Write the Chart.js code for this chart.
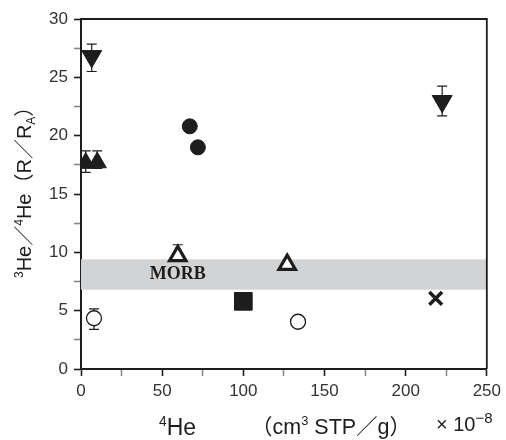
<!DOCTYPE html>
<html>
<head>
<meta charset="utf-8">
<script src="https://cdn.jsdelivr.net/npm/chart.js@4"></script>
<style>
  html, body { margin: 0; padding: 0; background: #fff; }
  #wrap { width: 506px; height: 440px; }
</style>
</head>
<body>
<div id="wrap"><canvas id="myChart" width="506" height="440"></canvas></div>
<script>
// values (x: 4He x10^-8 cm3 STP/g, y: R/RA)
const invTriX = [6.6, 222.5];
const invTriY = [26.8, 22.95];
const invTriLo = [25.5, 21.7];
const invTriHi = [27.85, 24.25];

const triX = [2.9, 10.0];
const triY = [17.65, 17.7];
const triLo = [16.85, 17.2];
const triHi = [18.7, 18.7];

const dotX = [67, 72];
const dotY = [20.8, 19.0];

const openTriX = [59.6, 127];
const openTriY = [9.7, 8.95];
const openTriLo = [9.7, 8.95];
const openTriHi = [10.65, 8.95];

const squareX = [100];
const squareY = [5.8];

const ringX = [8.0, 133.7];
const ringY = [4.35, 4.05];
const ringLo = [3.4, 4.05];
const ringHi = [5.15, 4.05];

const crossX = [218.5];
const crossY = [6.05];

const morbRange = [6.8, 9.4];
const morbLabel = { text: 'MORB', x: 59.6, y: 7.7 };

const xMajor = 50, xMinor = 25;
const yMajor = 5, yMinor = 2.5;

const SANS = '"Liberation Sans", "Noto Sans CJK JP", Arial, sans-serif';
const INK = '#1d1d1d';

function pts(xs, ys) {
    return xs.map((x, i) => ({ x: x, y: ys[i] }));
}

function drawRich(ctx, parts, x, y, size) {
    let cx = x;
    parts.forEach((p) => {
        const s = (p.sup || p.sub) ? size * (p.scale || 0.6) : size;
        ctx.font = `${s}px ${SANS}`;
        const dy = p.sup ? -size * 0.4 : (p.sub ? size * 0.22 : 0);
        ctx.fillText(p.t, cx, y + dy);
        cx += ctx.measureText(p.t).width;
    });
    return cx - x;
}

const bandPlugin = {
    id: 'band',
    beforeDatasetsDraw(chart) {
        const { ctx, chartArea, scales } = chart;
        const y1 = scales.y.getPixelForValue(morbRange[1]);
        const y0 = scales.y.getPixelForValue(morbRange[0]);
        ctx.save();
        ctx.fillStyle = '#d2d3d5';
        ctx.fillRect(chartArea.left, y1, chartArea.right - chartArea.left, y0 - y1);
        ctx.font = `bold 18px "Liberation Serif", "DejaVu Serif", serif`;
        ctx.fillStyle = INK;
        ctx.textAlign = 'center';
        ctx.textBaseline = 'alphabetic';
        ctx.fillText(morbLabel.text, scales.x.getPixelForValue(morbLabel.x), scales.y.getPixelForValue(morbLabel.y));

        // error bars, under the markers
        ctx.strokeStyle = INK;
        ctx.lineWidth = 1.2;
        chart.data.datasets.forEach((ds) => {
            if (!ds.errLo) return;
            ds.data.forEach((p, i) => {
                const px = scales.x.getPixelForValue(p.x);
                const lo = scales.y.getPixelForValue(ds.errLo[i]);
                const hi = scales.y.getPixelForValue(ds.errHi[i]);
                if (Math.abs(lo - hi) < 0.5) return;
                ctx.beginPath();
                ctx.moveTo(px, lo);
                ctx.lineTo(px, hi);
                ctx.moveTo(px - 5, hi);
                ctx.lineTo(px + 5, hi);
                if (ds.errLo[i] < p.y) {
                    ctx.moveTo(px - 5, lo);
                    ctx.lineTo(px + 5, lo);
                }
                ctx.stroke();
            });
        });
        ctx.restore();
    }
};

const framePlugin = {
    id: 'frame',
    afterDraw(chart) {
        const { ctx, chartArea } = chart;
        ctx.save();
        ctx.strokeStyle = INK;
        ctx.lineWidth = 1.8;
        ctx.beginPath();
        ctx.moveTo(chartArea.left, chartArea.top);
        ctx.lineTo(chartArea.right, chartArea.top);
        ctx.lineTo(chartArea.right, chartArea.bottom);
        ctx.stroke();

        ctx.fillStyle = INK;
        ctx.textBaseline = 'alphabetic';
        ctx.textAlign = 'left';

        // y axis title
        const yParts = [
            { t: '3', sup: true }, { t: 'He' }, { t: '／' }, { t: '4', sup: true }, { t: 'He' },
            { t: '（' }, { t: 'R' }, { t: '／' }, { t: 'R' }, { t: 'A', sub: true }, { t: '）' }
        ];
        ctx.save();
        ctx.translate(31, 278);
        ctx.rotate(-Math.PI / 2);
        drawRich(ctx, yParts, 0, 0, 20);
        ctx.restore();

        // x axis title
        drawRich(ctx, [{ t: '4', sup: true }, { t: 'He' }], 159, 435, 23);
        drawRich(ctx, [{ t: '（' }, { t: 'cm' }, { t: '3', sup: true }, { t: ' STP' }, { t: '／' }, { t: 'g' }, { t: '）' }], 251, 434, 21.5);
        drawRich(ctx, [{ t: '× 10' }, { t: '−8', sup: true, scale: 0.75 }], 436, 431, 20);
        ctx.restore();
    }
};

const tickColor = (step) => (c) => (c.tick && Math.abs(c.tick.value % step) < 1e-6 ? INK : '#8a8a8a');

const ctx = document.getElementById('myChart').getContext('2d');
new Chart(ctx, {
    type: 'scatter',
    data: {
        datasets: [
            {
                data: pts(invTriX, invTriY), errLo: invTriLo, errHi: invTriHi,
                pointStyle: 'triangle', rotation: 180, pointRadius: 11.5,
                backgroundColor: INK, borderColor: INK, borderWidth: 1
            },
            {
                data: pts(triX, triY), errLo: triLo, errHi: triHi,
                pointStyle: 'triangle', pointRadius: 10.5,
                backgroundColor: INK, borderColor: INK, borderWidth: 1
            },
            {
                data: pts(dotX, dotY),
                pointStyle: 'circle', pointRadius: 7.5,
                backgroundColor: INK, borderColor: INK, borderWidth: 1
            },
            {
                data: pts(openTriX, openTriY), errLo: openTriLo, errHi: openTriHi,
                pointStyle: 'triangle', pointRadius: 9.5,
                backgroundColor: '#fff', borderColor: INK, borderWidth: 3.2
            },
            {
                data: pts(squareX, squareY),
                pointStyle: 'rect', pointRadius: 12.5,
                backgroundColor: INK, borderColor: INK, borderWidth: 1
            },
            {
                data: pts(ringX, ringY), errLo: ringLo, errHi: ringHi,
                pointStyle: 'circle', pointRadius: 7.5,
                backgroundColor: '#fff', borderColor: INK, borderWidth: 1.3
            },
            {
                data: pts(crossX, crossY),
                pointStyle: 'crossRot', pointRadius: 9,
                backgroundColor: INK, borderColor: INK, borderWidth: 3.5
            }
        ]
    },
    options: {
        responsive: false,
        animation: false,
        layout: { padding: { top: 19, right: 18, left: 0, bottom: 0 } },
        plugins: { legend: { display: false }, tooltip: { enabled: false } },
        elements: { point: { hoverRadius: 0 } },
        scales: {
            x: {
                type: 'linear', min: 0, max: 250,
                afterFit: (s) => { s.height = 71; },
                ticks: {
                    stepSize: xMinor, padding: 5, color: '#333',
                    font: { family: SANS, size: 17 },
                    maxRotation: 0, autoSkip: false,
                    callback: (v) => (v % xMajor === 0 ? v : '')
                },
                grid: {
                    drawOnChartArea: false, drawTicks: true, tickLength: 7,
                    tickColor: tickColor(xMajor), tickWidth: 1.6
                },
                border: { display: true, color: INK, width: 2 }
            },
            y: {
                type: 'linear', min: 0, max: 30,
                afterFit: (s) => { s.width = 81; },
                ticks: {
                    stepSize: yMinor, padding: 6, color: '#333',
                    font: { family: SANS, size: 17 },
                    autoSkip: false,
                    callback: (v) => (v % yMajor === 0 ? v : '')
                },
                grid: {
                    drawOnChartArea: false, drawTicks: true, tickLength: 7,
                    tickColor: tickColor(yMajor), tickWidth: 1.6
                },
                border: { display: true, color: INK, width: 2 }
            }
        }
    },
    plugins: [bandPlugin, framePlugin]
});
</script>
</body>
</html>
